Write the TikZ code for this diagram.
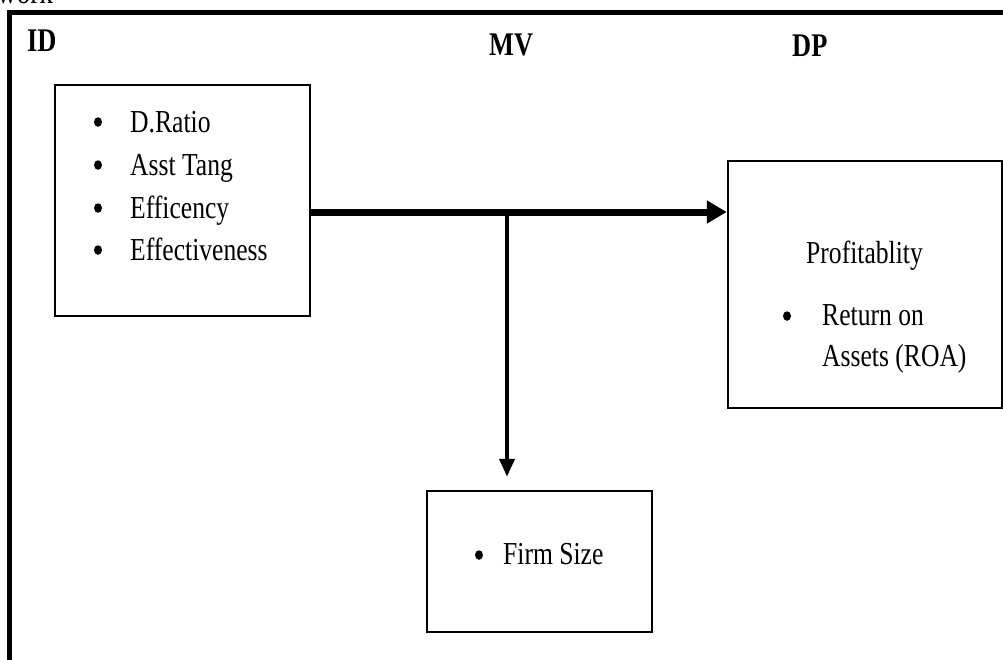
\documentclass[tikz,border=0pt]{standalone}
\usepackage{fontspec}
\setmainfont{Liberation Serif}[FakeStretch=0.8]
\usetikzlibrary{arrows.meta}
\tikzset{
  box/.style={draw=black, line width=2.5pt, inner sep=0pt, fill=white},
  txt/.style={anchor=base west, inner sep=0pt, font=\fontsize{32}{38}\selectfont},
  head/.style={anchor=base west, inner sep=0pt, font=\fontsize{33}{38}\selectfont\bfseries},
  dot/.style={ellipse, fill=black, inner sep=0pt, minimum width=8pt, minimum height=9.5pt},
  mainarrow/.style={line width=7pt, -{Triangle[length=20pt,width=22pt]}},
  subarrow/.style={line width=4pt, -{Triangle[length=18pt,width=15pt]}},
}
\usetikzlibrary{shapes.geometric}
\begin{document}
\begin{tikzpicture}[x=1pt,y=-1pt]
\useasboundingbox (0,0) rectangle (1003,659);
\clip (0,0) rectangle (1003,659);
% partially visible caption
\node[txt, font=\fontsize{34}{38}\selectfont] (cap) at (-3,3) {work};
% outer frame
\draw[line width=5pt] (9.5,1000) -- (9.5,12.5) -- (1100,12.5);
% headings
\node[head] (id) at (27,51) {ID};
\node[head] (mv) at (489,55) {MV};
\node[head] (dp) at (792,56) {DP};
% boxes
\node[box, minimum width=255pt, minimum height=231pt] (ind) at (182.5,200.5) {};
\node[box, minimum width=274pt, minimum height=247pt] (dep) at (865,284.5) {};
\node[box, minimum width=225pt, minimum height=141pt] (firm) at (539.5,561.5) {};
% left box text
\node[dot] (b1) at (98,122) {};
\node[txt] (t1) at (130,132) {D.Ratio};
\node[dot] (b2) at (98,165) {};
\node[txt] (t2) at (130,175) {Asst Tang};
\node[dot] (b3) at (98,208) {};
\node[txt] (t3) at (130,218) {Efficency};
\node[dot] (b4) at (98,250) {};
\node[txt] (t4) at (130,260) {Effectiveness};
% right box text
\node[txt] (p) at (806,263) {Profitablity};
\node[dot] (b5) at (787,316) {};
\node[txt] (r1) at (822,325) {Return on};
\node[txt] (r2) at (822,366) {Assets (ROA)};
% bottom box text
\node[dot] (b6) at (479,555) {};
\node[txt] (f) at (503,564) {Firm Size};
% connectors
\coordinate (junc) at (507,212);
\draw[mainarrow] (ind.east |- junc) -- (dep.west |- junc);
\draw[subarrow, shorten >=13pt] (junc) -- (junc |- firm.north);
\end{tikzpicture}
\end{document}
